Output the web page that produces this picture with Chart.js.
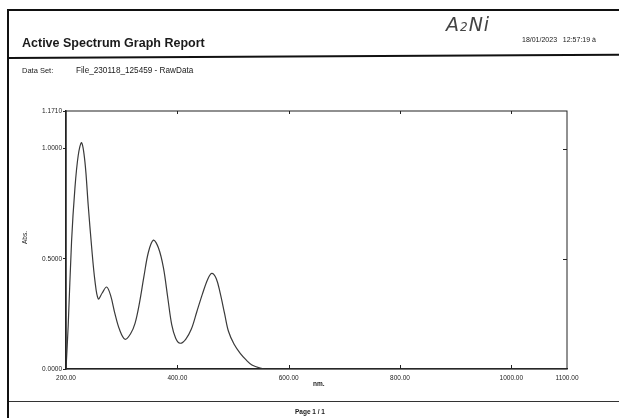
<!DOCTYPE html>
<html>
<head>
<meta charset="utf-8">
<title>Active Spectrum Graph Report</title>
<script src="https://cdn.jsdelivr.net/npm/chart.js@4"></script>
<style>
    html, body { margin: 0; padding: 0; background: #fff; }
    body { width: 619px; height: 418px; position: relative; overflow: hidden; font-family: "Liberation Sans", Arial, sans-serif; color: #1a1a1a; }
    #chart { position: absolute; left: 0; top: 0; }
    .txt { position: absolute; white-space: nowrap; }
    .rule { position: absolute; background: #111; }
</style>
</head>
<body>
<canvas id="chart" width="619" height="418"></canvas>

<!-- page frame and rules -->
<div class="rule" style="left:7px; top:9px; width:612px; height:2px;"></div>
<div class="rule" style="left:7px; top:9px; width:2px; height:409px;"></div>
<div class="rule" style="left:9px; top:57px; width:610px; height:2px; transform:rotate(-0.3deg); transform-origin:left center;"></div>
<div class="rule" style="left:9px; top:401px; width:610px; height:1px; background:#333;"></div>

<div class="txt" style="left:22px; top:36px; font-size:12.5px; font-weight:bold;">Active Spectrum Graph Report</div>
<div class="txt" style="left:446px; top:13px; font-size:19px; font-family:'DejaVu Sans', sans-serif; font-style:italic; font-weight:200; color:#444; letter-spacing:1px;">A<span style="font-size:12px;">2</span>Ni</div>
<div class="txt" style="left:522px; top:36px; font-size:7px;">18/01/2023&nbsp;&nbsp;&nbsp;12:57:19 à</div>
<div class="txt" style="left:22px; top:66px; font-size:7.5px;">Data Set:</div>
<div class="txt" style="left:76px; top:66px; font-size:8.2px;">File_230118_125459 - RawData</div>
<div class="txt" style="left:18px; top:234px; font-size:6.5px; transform:rotate(-90deg); transform-origin:center;">Abs.</div>
<div class="txt" style="left:313px; top:380px; font-size:6.5px; font-weight:bold;">nm.</div>
<div class="txt" style="left:295px; top:408px; font-size:6.5px; font-weight:bold;">Page 1 / 1</div>

<script>
// wavelength (nm) and absorbance readings
const wavelengths = [200, 204, 210, 216, 222, 228, 234, 240, 246, 252, 258, 265, 273, 280, 288, 296,
    306, 316, 324, 332, 340, 348, 357, 366, 375, 383, 390, 397, 405, 415, 425, 435,
    445, 455, 462, 470, 477, 485, 492, 502, 513, 524, 534, 549, 560, 700, 900, 1100];
const absorbance = [0.000, 0.200, 0.580, 0.820, 0.970, 1.027, 0.940, 0.740, 0.555, 0.400, 0.318, 0.345, 0.372, 0.335, 0.250, 0.180,
    0.135, 0.160, 0.207, 0.300, 0.420, 0.530, 0.585, 0.550, 0.460, 0.320, 0.200, 0.140, 0.117, 0.135, 0.180, 0.260,
    0.340, 0.410, 0.434, 0.410, 0.344, 0.250, 0.170, 0.112, 0.071, 0.040, 0.018, 0.004, 0.000, 0.000, 0.000, 0.000];

const xTicks = [200, 400, 600, 800, 1000, 1100];
const yTicks = [0, 0.5, 1.0, 1.171];

const axisFont = { family: 'Liberation Sans', size: 6.5 };

// box around the plot plus the short inward ticks on all sides
const frame = {
    id: 'frame',
    afterDraw(chart) {
        const { ctx, chartArea: a, scales } = chart;
        ctx.save();
        ctx.strokeStyle = '#222';
        ctx.lineWidth = 1;
        ctx.strokeRect(a.left, a.top, a.right - a.left, a.bottom - a.top);
        ctx.beginPath();
        xTicks.slice(1, -1).forEach(v => {
            const px = Math.round(scales.x.getPixelForValue(v)) + 0.5;
            ctx.moveTo(px, a.bottom); ctx.lineTo(px, a.bottom - 4);
            ctx.moveTo(px, a.top); ctx.lineTo(px, a.top + 3);
        });
        yTicks.slice(1, -1).forEach(v => {
            const py = Math.round(scales.y.getPixelForValue(v)) + 0.5;
            ctx.moveTo(a.right, py); ctx.lineTo(a.right - 4, py);
        });
        ctx.stroke();
        ctx.restore();
    }
};

new Chart(document.getElementById('chart'), {
    type: 'line',
    data: {
        datasets: [{
            data: wavelengths.map((x, i) => ({ x: x, y: absorbance[i] })),
            borderColor: '#3a3a3a',
            borderWidth: 1.2,
            pointRadius: 0,
            fill: false,
            tension: 0.35
        }]
    },
    options: {
        responsive: false,
        animation: false,
        devicePixelRatio: 1,
        layout: { padding: { left: 0, top: 111, right: 52, bottom: 31 } },
        plugins: { legend: { display: false }, tooltip: { enabled: false } },
        scales: {
            x: {
                type: 'linear',
                min: 200,
                max: 1100,
                afterBuildTicks: s => { s.ticks = xTicks.map(v => ({ value: v })); },
                afterFit: s => { s.height = 18; },
                grid: { display: false, drawTicks: false },
                border: { display: true, color: '#222', width: 1.3 },
                ticks: {
                    autoSkip: false,
                    maxRotation: 0,
                    padding: 5,
                    color: '#222',
                    font: axisFont,
                    callback: v => v.toFixed(2)
                }
            },
            y: {
                type: 'linear',
                min: 0,
                max: 1.171,
                afterBuildTicks: s => { s.ticks = yTicks.map(v => ({ value: v })); },
                afterFit: s => { s.width = 66; },
                grid: { drawOnChartArea: false, drawTicks: true, tickLength: 3, color: '#222' },
                border: { display: true, color: '#222', width: 1.5 },
                ticks: {
                    padding: 1,
                    color: '#222',
                    font: axisFont,
                    callback: v => v.toFixed(4)
                }
            }
        }
    },
    plugins: [frame]
});
</script>
</body>
</html>
